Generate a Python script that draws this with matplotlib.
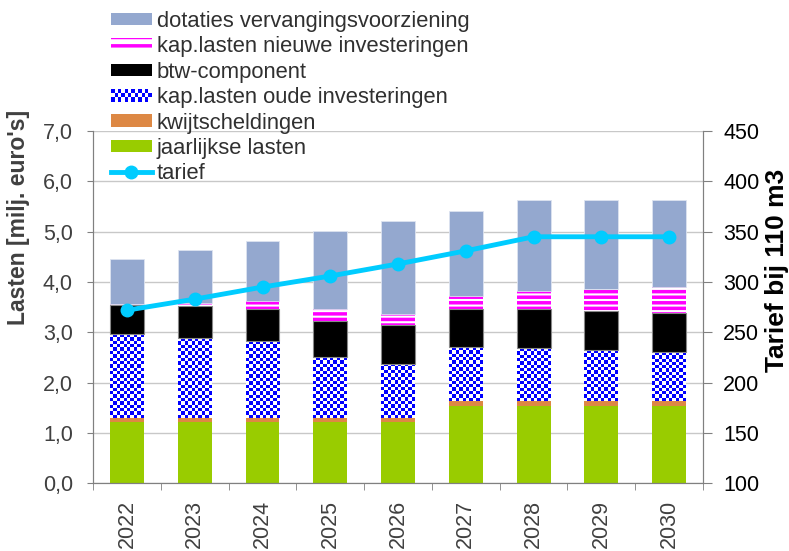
import matplotlib
matplotlib.use("Agg")
import matplotlib.pyplot as plt
import matplotlib.patches as mpatches
from matplotlib.colors import ListedColormap
from matplotlib.legend_handler import HandlerBase
from matplotlib.lines import Line2D
import numpy as np

plt.rcParams['font.family'] = ['Liberation Sans', 'DejaVu Sans']

years = ['2022', '2023', '2024', '2025', '2026', '2027', '2028', '2029', '2030']
jaarlijkse_lasten = [1.21, 1.21, 1.21, 1.21, 1.21, 1.53, 1.53, 1.53, 1.53]
kwijtscheldingen = [0.09, 0.09, 0.09, 0.09, 0.09, 0.10, 0.10, 0.10, 0.10]
kap_oud = [1.66, 1.59, 1.52, 1.21, 1.08, 1.07, 1.05, 1.01, 0.97]
btw = [0.58, 0.63, 0.65, 0.72, 0.77, 0.76, 0.79, 0.79, 0.79]
kap_nieuw = [0.03, 0.07, 0.16, 0.23, 0.22, 0.26, 0.35, 0.44, 0.51]
dotaties = [0.88, 1.04, 1.18, 1.55, 1.84, 1.69, 1.82, 1.77, 1.74]
tarief = [272, 283, 295, 306, 318, 331, 345, 345, 345]

c_green = '#99CC00'
c_orange = '#DD8844'
c_blue = '#0000FF'
c_black = '#000000'
c_magenta = '#FF00FF'
c_gray = '#94A8CF'
c_line = '#00CCFF'
c_text = '#404040'

fig = plt.figure(figsize=(7.89, 5.51), dpi=100)
ax = fig.add_axes([0.118, 0.123, 0.773, 0.639])
ax2 = ax.twinx()

x = np.arange(len(years))
w = 0.5
ax.set_xlim(-0.5, len(years) - 0.5)
ax.set_ylim(0, 7)
ax2.set_ylim(100, 450)

bottom = np.zeros(len(years))
ax.bar(x, jaarlijkse_lasten, w, bottom=bottom, color=c_green, zorder=2)
bottom += jaarlijkse_lasten
ax.bar(x, kwijtscheldingen, w, bottom=bottom, color=c_orange, zorder=2)
bottom += kwijtscheldingen

# checkered fill for the old investments
cell = 3.3
px_x = ax.bbox.width / len(years)
px_y = ax.bbox.height / 7.0
checker_cmap = ListedColormap(['white', c_blue])
for xi, b0, h in zip(x, bottom, kap_oud):
    nx = max(1, int(round(w * px_x / cell)))
    ny = max(1, int(round(h * px_y / cell)))
    grid = (np.add.outer(np.arange(ny), np.arange(nx)) % 2).astype(float)
    ax.imshow(grid, cmap=checker_cmap, vmin=0, vmax=1, interpolation='nearest',
              extent=(xi - w / 2, xi + w / 2, b0, b0 + h), aspect='auto', zorder=2)
bottom += kap_oud

ax.bar(x, btw, w, bottom=bottom, color=c_black, edgecolor='#888888', linewidth=0.8, zorder=2)
bottom += btw
plt.rcParams['hatch.linewidth'] = 2.5
ax.bar(x, kap_nieuw, w, bottom=bottom, facecolor='white', edgecolor=c_magenta,
       hatch='---', linewidth=0, zorder=2)
bottom += kap_nieuw
ax.bar(x, dotaties, w, bottom=bottom, color=c_gray, edgecolor='#DDE3F0', linewidth=0.6, zorder=2)

ax2.plot(x, tarief, color=c_line, lw=3.5, marker='o', markersize=9, zorder=3)

ax.set_xlim(-0.5, len(years) - 0.5)
ax.set_ylim(0, 7)
yt = np.arange(0, 7.01, 1.0)
ax.set_yticks(yt)
ax.set_yticklabels([f"{v:.1f}".replace('.', ',') for v in yt], fontsize=15.5, color=c_text)
ax2.set_yticks(np.arange(100, 451, 50))
ax2.set_yticklabels([str(v) for v in range(100, 451, 50)], fontsize=15.5, color='black')
ax.set_xticks(x)
ax.set_xticklabels(years, rotation=90, fontsize=15.5, color=c_text)
ax.set_xticks(np.arange(-0.5, len(years), 1.0), minor=True)
ax.tick_params(axis='x', which='major', length=0, pad=12)
ax.tick_params(axis='x', which='minor', length=5, color='#808080', direction='out')
ax.tick_params(axis='y', direction='out', length=4.5, pad=10, color='#808080')
ax2.tick_params(axis='y', direction='out', length=6.5, pad=8, color='#808080')

ax.yaxis.grid(True, color='#C8C8C8', lw=1, zorder=0)
ax.set_axisbelow(True)
for a in (ax, ax2):
    a.spines['top'].set_visible(False)
    a.spines['left'].set_color('#808080')
    a.spines['right'].set_color('#808080')
    a.spines['bottom'].set_color('#808080')

fig.text(19 / 789, 1 - 217 / 551, "Lasten [milj. euro's]", rotation=90, ha='center',
         va='center', fontsize=16.5, fontweight='bold', color=c_text)
fig.text(777 / 789, 1 - 270 / 551, "Tarief bij 110 m3", rotation=90, ha='center',
         va='center', fontsize=19, fontweight='bold', color='black')


class CheckerHandler(HandlerBase):
    def create_artists(self, legend, orig_handle, xdescent, ydescent, width, height,
                       fontsize, trans):
        arts = [mpatches.Rectangle((-xdescent, -ydescent), width, height,
                                   facecolor='white', lw=0, transform=trans)]
        nx, ny = 12, 3
        cw, ch = width / nx, height / ny
        for i in range(nx):
            for j in range(ny):
                if (i + j) % 2 == 0:
                    arts.append(mpatches.Rectangle((-xdescent + i * cw, -ydescent + j * ch),
                                                   cw, ch, facecolor=c_blue, lw=0,
                                                   transform=trans))
        return arts


oud_handle = mpatches.Patch(label='kap.lasten oude investeringen')
handles = [
    mpatches.Patch(facecolor=c_gray, label='dotaties vervangingsvoorziening'),
    mpatches.Patch(facecolor='white', edgecolor=c_magenta, hatch='--', linewidth=0,
                   label='kap.lasten nieuwe investeringen'),
    mpatches.Patch(facecolor=c_black, label='btw-component'),
    oud_handle,
    mpatches.Patch(facecolor=c_orange, label='kwijtscheldingen'),
    mpatches.Patch(facecolor=c_green, label='jaarlijkse lasten'),
    Line2D([0], [0], color=c_line, lw=3.5, marker='o', markersize=9, label='tarief'),
]
leg = fig.legend(handles=handles, loc='upper left', bbox_to_anchor=(0.127, 1.0),
                 frameon=False, fontsize=15.8, labelspacing=0.2, handlelength=1.85,
                 handleheight=0.5, handletextpad=0.22, borderaxespad=0.1,
                 handler_map={oud_handle: CheckerHandler()})
for t in leg.get_texts():
    t.set_color('#303030')

fig.savefig('out.png', dpi=100)
